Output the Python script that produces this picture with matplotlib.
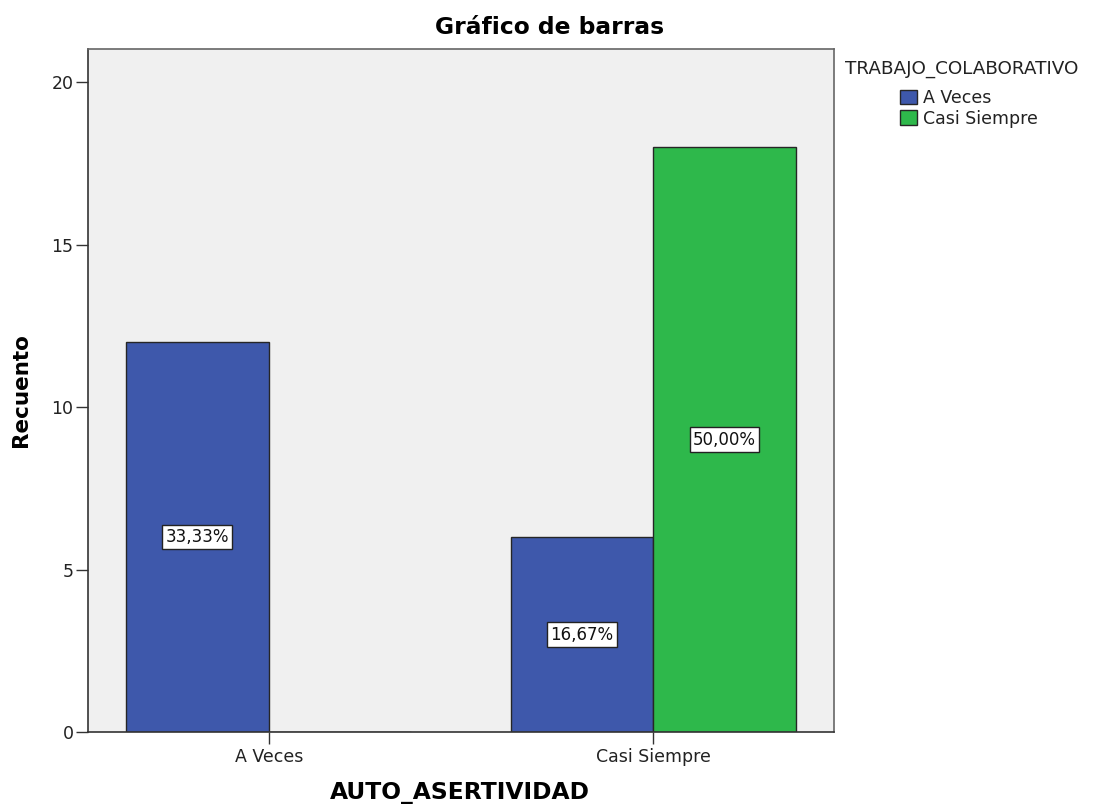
import numpy as np
import matplotlib
matplotlib.use("Agg")
import matplotlib.pyplot as plt

categories = ["A Veces", "Casi Siempre"]
series_names = ["A Veces", "Casi Siempre"]
counts_a_veces = [12, 6]
counts_casi_siempre = [0, 18]
pct_a_veces = ["33,33%", "16,67%"]
pct_casi_siempre = [None, "50,00%"]

BLUE = "#3e58ab"
GREEN = "#2eb84b"
BG = "#f0f0f0"
EDGE = "#262626"
WIDTH = 0.371

plt.rcParams["font.family"] = ["DejaVu Sans"]

fig = plt.figure(figsize=(10.96, 8.05), dpi=100)
ax = fig.add_axes([0.0803, 0.0907, 0.6807, 0.8484])
ax.set_facecolor(BG)

x = np.arange(len(categories))
series = [
    (counts_a_veces, pct_a_veces, BLUE, -WIDTH / 2),
    (counts_casi_siempre, pct_casi_siempre, GREEN, WIDTH / 2),
]
handles = []
for (vals, labels, color, off), name in zip(series, series_names):
    bars = ax.bar(x + off, vals, WIDTH, color=color, edgecolor=EDGE,
                  linewidth=1.0, label=name)
    handles.append(bars)
    for xi, v, lab in zip(x + off, vals, labels):
        if lab is None or v == 0:
            continue
        ax.text(xi, v / 2, lab, ha="center", va="center", fontsize=12,
                color="#111111",
                bbox=dict(boxstyle="square,pad=0.2", facecolor="white",
                          edgecolor="#222222", linewidth=1.0))

ax.set_xlim(-0.47, 1.47)
ax.set_ylim(0, 21.03)
ax.set_yticks([0, 5, 10, 15, 20])
ax.set_xticks(x)
ax.set_xticklabels(categories)
ax.tick_params(axis="both", labelsize=12.5, color="#333333", length=8.5,
               width=1.0, labelcolor="#222222")
ax.tick_params(axis="y", pad=2)
ax.tick_params(axis="x", pad=3)
for sp in ["left", "bottom"]:
    ax.spines[sp].set_color("#333333")
    ax.spines[sp].set_linewidth(1.2)
for sp in ["top", "right"]:
    ax.spines[sp].set_color("#666666")
    ax.spines[sp].set_linewidth(1.2)

# axis titles and chart title placed in figure coords
fig.text(0.42, 0.015, "AUTO_ASERTIVIDAD", ha="center", va="center",
         fontsize=16.8, fontweight="bold")
fig.text(21 / 1096, 0.515, "Recuento", ha="center", va="center",
         rotation=90, fontsize=15.5, fontweight="bold")
fig.text(0.501, 0.966, "Gráfico de barras", ha="center", va="center",
         fontsize=16.8, fontweight="bold")

# legend: title flush left, items indented
fig.text(845 / 1096, 1 - 69 / 805, "TRABAJO_COLABORATIVO", ha="left",
         va="center", fontsize=13.2, color="#222222")
fig.legend(handles=handles, labels=series_names, loc="upper left",
           bbox_to_anchor=(900 / 1096, 1 - 89 / 805),
           frameon=False, fontsize=12.5, labelcolor="#222222",
           handlelength=1.0, handleheight=0.9, handletextpad=0.35,
           labelspacing=0.15, borderpad=0, borderaxespad=0)

fig.savefig("out.png", dpi=100, facecolor="white")
